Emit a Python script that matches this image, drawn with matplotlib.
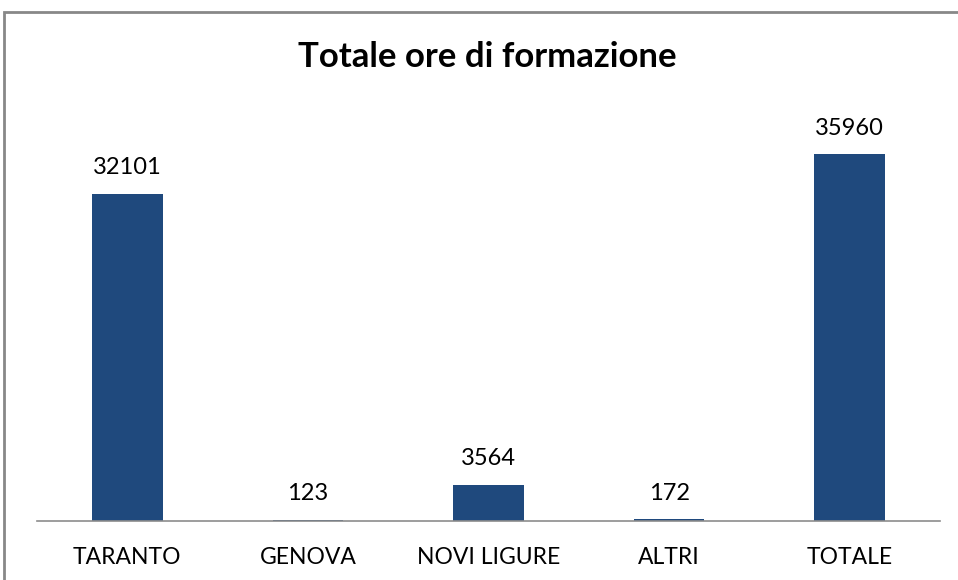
import matplotlib.pyplot as plt
from matplotlib.patches import Rectangle

categories = ["TARANTO", "GENOVA", "NOVI LIGURE", "ALTRI", "TOTALE"]
values = [32101, 123, 3564, 172, 35960]

plt.rcParams["font.family"] = ["Lato", "DejaVu Sans"]

fig = plt.figure(figsize=(9.58, 5.8), dpi=100)
# outer chart frame (cut off at right and bottom like the screenshot)
fig.patches.append(Rectangle((4 / 958, -0.1), 1.2, (580 - 12) / 580 + 0.1,
                             transform=fig.transFigure, fill=False,
                             edgecolor="#888888", linewidth=2))

ax = fig.add_axes([37 / 958, (580 - 521) / 580, 903 / 958, 408 / 580])
x = range(len(categories))
bars = ax.bar(x, values, width=0.39, color="#1F497D")
ax.set_xlim(-0.5, len(categories) - 0.5)
ax.set_ylim(0, 40000)

for b, v in zip(bars, values):
    ax.annotate(str(v), (b.get_x() + b.get_width() / 2, v),
                xytext=(0, 11), textcoords="offset points",
                ha="center", va="bottom", fontsize=17)

ax.set_xticks(list(x))
ax.set_xticklabels(categories, fontsize=16.5)
ax.tick_params(axis="x", length=0, pad=19)
ax.set_yticks([])
for s in ["top", "right", "left"]:
    ax.spines[s].set_visible(False)
ax.spines["bottom"].set_color("#8C8C8C")
ax.spines["bottom"].set_linewidth(1.2)

fig.text(487 / 958, 1 - 57 / 580, "Totale ore di formazione", ha="center", va="center",
         fontsize=25, fontweight="bold")

fig.savefig("out.png", dpi=100)
